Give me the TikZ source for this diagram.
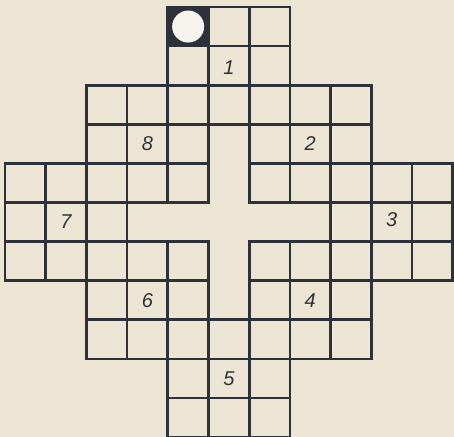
\documentclass[tikz,border=0pt]{standalone}
\usepackage{fontspec}
\setmainfont{Liberation Sans}
\definecolor{paper}{RGB}{236,229,212}
\definecolor{ink}{RGB}{45,50,58}
\definecolor{hole}{RGB}{246,243,236}
\begin{document}
\begin{tikzpicture}[x=40.7pt,y=-39.1pt,
  gridline/.style={draw=ink,line width=2.7pt,line cap=rect},
  num/.style={font=\itshape\fontsize{20}{20}\selectfont,text=ink,inner sep=0pt}]
\fill[paper] (-0.1229,-0.179) rectangle (11.032,10.997);
\useasboundingbox (-0.1229,-0.179) rectangle (11.032,10.997);
\fill[ink] (4,0) rectangle (5,1);
\fill[hole] (4.5,0.5) circle (16pt);
\foreach \c/\r in {4/0,2/2,6/2,0/4,8/4,2/6,6/6,4/8} {
  \foreach \i in {0,...,3} {
    \draw[gridline] (\c+\i,\r) -- (\c+\i,\r+3);
    \draw[gridline] (\c,\r+\i) -- (\c+3,\r+\i);
  }
}
\node[num] (n1) at (5.5,1.55) {1};
\node[num] (n8) at (3.5,3.5) {8};
\node[num] (n2) at (7.5,3.5) {2};
\node[num] (n7) at (1.5,5.5) {7};
\node[num] (n3) at (9.5,5.45) {3};
\node[num] (n6) at (3.5,7.5) {6};
\node[num] (n4) at (7.5,7.5) {4};
\node[num] (n5) at (5.5,9.5) {5};
\end{tikzpicture}
\end{document}
